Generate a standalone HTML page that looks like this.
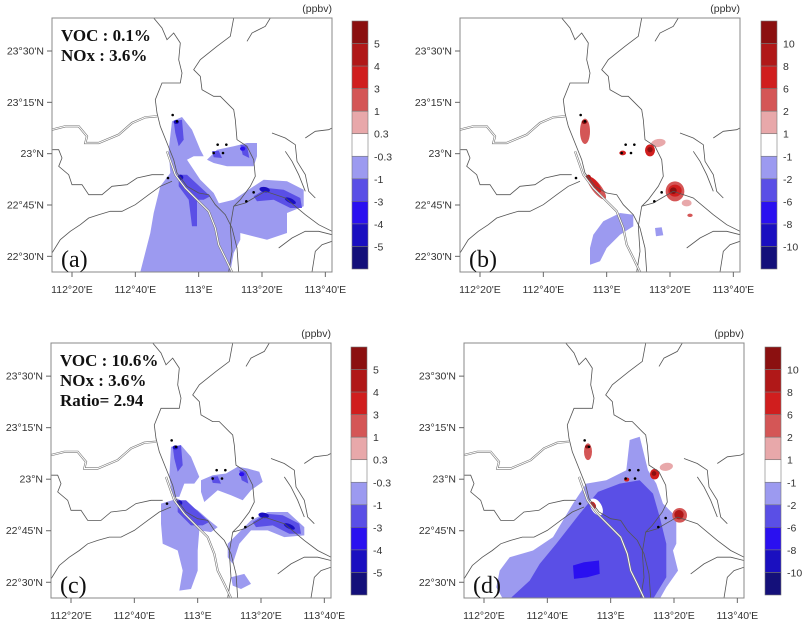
<!DOCTYPE html>
<html><head><meta charset="utf-8">
<style>
html,body{margin:0;padding:0;background:#fff;}
svg{display:block;font-family:"Liberation Sans",sans-serif;}
</style></head>
<body>
<svg id="fig" width="802" height="626" viewBox="0 0 802 626" xmlns="http://www.w3.org/2000/svg"></svg>
<script>
// ---- data ----
var lonTicks = ["112°20'E","112°40'E","113°E","113°20'E","113°40'E"];
var lonTickGrid = [60, 250, 440, 630, 820];
var latTicks = ["23°30'N","23°15'N","23°N","22°45'N","22°30'N"];
var latTickGrid = [99, 253, 407, 561, 715];
var levelsAC = ["5","4","3","1","0.3","-0.3","-1","-3","-4","-5"];
var levelsBD = ["10","8","6","2","1","-1","-2","-6","-8","-10"];
var levelColors = ["#8b1010","#b01818","#d01e1e","#d45656","#e8a8aa","#ffffff","#9c9af0","#5a4fe6","#2a10f0","#1a0fc0","#14107a"];
var sites = [[362,291],[375,310],[497,380],[523,380],[485,405],[513,405],[348,480],[605,523],[583,550]];
var annotA = ["VOC : 0.1%","NOx : 3.6%"];
var annotC = ["VOC : 10.6%","NOx : 3.6%","Ratio= 2.94"];

var plumeA = [
 {lv:6, p:[[360,310],[390,297],[420,335],[445,395],[455,415],[425,415],[405,425],[445,485],[485,525],[505,565],[545,585],[565,625],[565,665],[545,705],[535,762],[265,762],[295,645],[305,585],[325,505],[355,465],[350,395]]},
 {lv:6, p:[[465,425],[495,395],[545,385],[585,375],[615,375],[615,415],[605,445],[565,445],[525,445],[485,435]]},
 {lv:6, p:[[465,565],[545,545],[605,505],[635,485],[705,490],[755,515],[755,565],[705,585],[705,645],[645,665],[565,645],[505,615]]},
 {lv:7, p:[[365,310],[390,305],[395,365],[380,385],[370,345]]},
 {lv:7, p:[[380,470],[405,470],[475,535],[455,545],[435,545],[435,625],[420,625],[410,545],[380,505]]},
 {lv:7, p:[[605,535],[645,510],[695,515],[745,540],[750,570],[715,570],[665,545],[615,550]]},
 {lv:7, p:[[565,380],[585,383],[592,420],[572,410]]},
 {lv:7, p:[[480,400],[500,398],[510,420],[485,418]]}
];
var plumeC = [
 {lv:6, p:[[360,310],[390,305],[420,340],[445,400],[430,420],[400,420],[385,460],[365,460],[355,400]]},
 {lv:6, p:[[330,480],[380,465],[440,500],[475,530],[500,550],[480,565],[445,560],[440,620],[440,680],[420,735],[385,740],[395,680],[380,620],[335,600],[330,540]]},
 {lv:6, p:[[450,410],[485,395],[525,390],[560,370],[590,375],[625,385],[635,415],[600,440],[575,470],[540,455],[500,440],[460,475],[450,445]]},
 {lv:6, p:[[530,600],[600,530],[650,505],[710,505],[760,550],[760,575],[700,580],[650,560],[600,560],[565,600],[545,660],[530,640]]},
 {lv:6, p:[[540,700],[580,690],[600,720],[570,735],[545,725]]},
 {lv:7, p:[[365,310],[390,305],[395,365],[380,385],[370,345]]},
 {lv:7, p:[[380,470],[405,470],[475,535],[455,545],[420,545],[380,505]]},
 {lv:7, p:[[605,535],[645,510],[695,515],[745,540],[750,570],[715,570],[665,545],[615,550]]},
 {lv:7, p:[[565,380],[585,383],[592,420],[572,410]]},
 {lv:7, p:[[480,400],[500,398],[510,420],[485,418]]}
];
var plumeB = [
 {lv:6, p:[[430,610],[480,585],[520,590],[520,625],[480,650],[440,690],[420,730],[390,740],[390,690],[400,650]]},
 {lv:6, p:[[585,630],[605,628],[610,652],[588,655]]}
];
var plumeD = [
 {lv:6, p:[[497,290],[527,280],[552,380],[577,420],[597,480],[637,520],[637,600],[627,620],[642,680],[607,730],[587,765],[117,765],[97,730],[107,680],[137,640],[207,620],[267,580],[327,480],[367,420],[427,410],[487,380]]},
 {lv:7, p:[[402,445],[467,420],[527,410],[567,450],[587,520],[607,600],[607,700],[567,765],[137,765],[197,710],[227,660],[277,600],[347,510]]},
 {lv:8, p:[[327,665],[360,655],[405,650],[407,690],[370,700],[330,705]]}
];
var spotsA = [[373,312,8,6,0,9],[385,478,9,8,0,9],[638,515,16,8,10,9],[715,548,18,7,25,9],[572,392,8,6,0,8]];
var spotsC = spotsA;
var spotsB = [[375,340,15,38,0,3],[410,510,42,14,52,3],[405,500,28,10,52,2],[373,312,8,6,0,0],[385,478,8,8,0,1],[488,405,10,7,0,2],[595,375,22,12,-10,4],[570,397,15,18,0,2],[570,395,8,8,0,0],[645,520,28,30,0,3],[645,518,20,18,0,2],[640,518,10,10,0,0],[680,555,15,10,0,4],[690,592,8,5,0,3]];
var spotsD = [[397,490,16,28,-30,5],[372,325,12,25,0,3],[370,310,7,5,0,0],[387,485,8,12,-30,2],[488,408,8,6,0,2],[607,370,20,12,-10,4],[572,392,14,16,0,2],[570,390,7,7,0,0],[647,515,22,22,0,3],[645,513,14,14,0,1]];

var bounds = [
 [[305,0],[330,30],[345,65],[365,45],[385,75],[380,125],[390,165],[385,195],[330,195],[310,245],[315,285],[325,325],[345,375],[365,425],[375,465],[405,505],[440,525],[470,530],[490,560],[520,590],[540,630],[555,690],[560,762]],
 [[545,0],[535,55],[495,85],[445,125],[425,155],[445,175],[450,215],[485,235],[505,235],[535,265],[545,275],[550,305],[555,365],[585,385],[605,425],[610,475],[595,505],[565,545],[545,565],[535,625],[540,700],[530,762]],
 [[655,0],[640,25],[600,45],[585,70]],
 [[0,395],[20,395],[30,420],[20,445],[50,470],[60,500],[90,500],[110,530],[150,530],[180,505],[225,500],[255,480],[300,470],[335,470]],
 [[0,705],[25,665],[55,640],[85,620],[110,600],[140,590],[175,580],[210,580],[250,560],[290,530],[325,505],[360,490]],
 [[760,360],[790,340],[830,335],[840,330]],
 [[545,565],[580,555],[605,540],[640,520],[700,540],[760,590],[800,620],[840,640]],
 [[660,345],[700,360],[730,380],[735,430],[760,470],[770,520],[790,540]],
 [[700,400],[720,430],[740,470],[760,520]],
 [[680,690],[720,660],[760,640],[800,640],[840,650]],
 [[780,762],[790,700],[810,680],[840,670]]
];
var rivers = [
 [[0,335],[40,325],[80,325],[105,355],[100,375],[140,375],[200,350],[240,315],[280,298],[315,295]],
 [[345,400],[370,470],[400,510],[430,540],[470,580],[490,630],[500,680],[520,720],[540,762]]
];

// ---- drawing ----
var NS="http://www.w3.org/2000/svg";
var svg=document.getElementById('fig');
function mk(tag,attrs,parent){var e=document.createElementNS(NS,tag);for(var k in attrs)e.setAttribute(k,attrs[k]);(parent||svg).appendChild(e);return e;}
var panels=[
 {id:'a',fx:52,fy:18,fh:254,cbx:352,cby:21,levels:levelsAC,plumes:plumeA,spots:spotsA,annot:annotA},
 {id:'b',fx:460,fy:18,fh:254,cbx:761,cby:21,levels:levelsBD,plumes:plumeB,spots:spotsB,annot:[]},
 {id:'c',fx:51,fy:343,fh:255,cbx:351,cby:347,levels:levelsAC,plumes:plumeC,spots:spotsC,annot:annotC},
 {id:'d',fx:464,fy:343,fh:255,cbx:765,cby:347,levels:levelsBD,plumes:plumeD,spots:spotsD,annot:[]}
];
panels.forEach(function(P){
 var FW=280;
 function X(g){return P.fx+g/3;}
 function Y(g){return P.fy+g/3*(P.fh/254);}
 var g=mk('g',{});
 
 
 var clipId='clip'+P.id;
 var cp=mk('clipPath',{id:clipId},g);mk('rect',{x:P.fx,y:P.fy,width:FW,height:P.fh},cp);
 var map=mk('g',{'clip-path':'url(#'+clipId+')'},g);
 
 
 P.plumes.forEach(function(pl){
  var pts=pl.p.map(function(q){return X(q[0]).toFixed(1)+','+Y(q[1]).toFixed(1);}).join(' ');
  var e=mk('polygon',{points:pts,fill:levelColors[pl.lv],stroke:'none'},map);
  
  
 });
 P.spots.forEach(function(s){
  var e=mk('ellipse',{cx:X(s[0]),cy:Y(s[1]),rx:s[2]/3,ry:s[3]/3,fill:levelColors[s[5]],transform:'rotate('+s[4]+' '+X(s[0])+' '+Y(s[1])+')'},map);
  
  
 });
 function pathOf(line){return line.map(function(q,i){return (i?'L':'M')+X(q[0]).toFixed(1)+' '+Y(q[1]).toFixed(1);}).join('');}
 bounds.forEach(function(b){
  var e=mk('path',{d:pathOf(b),fill:'none',stroke:'#555','stroke-width':0.8},map);
  
  
 });
 rivers.forEach(function(r){
  mk('path',{d:pathOf(r),fill:'none',stroke:'#777','stroke-width':2.2},map);
  var e=mk('path',{d:pathOf(r),fill:'none',stroke:'#fff','stroke-width':1.0},map);
  
  
 });
 sites.forEach(function(s){
  var e=mk('circle',{cx:X(s[0]),cy:Y(s[1]),r:1.3,fill:'#000'},map);
  
  
 });
 var fr=mk('rect',{x:P.fx,y:P.fy,width:FW,height:P.fh,fill:'none',stroke:'#888','stroke-width':1},g);
 
 
 lonTicks.forEach(function(t,i){
  var x=X(lonTickGrid[i]);
  mk('line',{x1:x,x2:x,y1:P.fy+P.fh,y2:P.fy+P.fh+5,stroke:'#666','stroke-width':1},g);
  var e=mk('text',{x:x,y:P.fy+P.fh+21,'font-size':10.5,'text-anchor':'middle',fill:'#333'},g);
  e.textContent=t;
  
  
 });
 latTicks.forEach(function(t,i){
  var y=Y(latTickGrid[i]);
  mk('line',{x1:P.fx-5,x2:P.fx,y1:y,y2:y,stroke:'#666','stroke-width':1},g);
  var e=mk('text',{x:P.fx-8,y:y+3.5,'font-size':10.5,'text-anchor':'end',fill:'#333'},g);
  e.textContent=t;
  
  
 });
 P.annot.forEach(function(t,i){
  var e=mk('text',{x:P.fx+9,y:P.fy+23+i*20,'font-size':17,'font-weight':'bold','font-family':'"Liberation Serif",serif',fill:'#111'},g);
  e.textContent=t;
  
  
 });
 var lb=mk('text',{x:P.fx+9,y:P.fy+P.fh-5,'font-size':24,'font-family':'"Liberation Serif",serif',fill:'#111'},g);
 lb.textContent='('+P.id+')';
 
 
 var cb=mk('g',{},g);
 
 
 var bh=248/11, bw=16;
 levelColors.forEach(function(c,i){
  var e=mk('rect',{x:P.cbx,y:P.cby+i*bh,width:bw,height:bh,fill:c,stroke:'#777','stroke-width':0.6},cb);
  
  
 });
 P.levels.forEach(function(l,i){
  var e=mk('text',{x:P.cbx+bw+6,y:P.cby+(i+1)*bh+4,'font-size':10.5,fill:'#333'},cb);
  e.textContent=l;
  
  
 });
 var u=mk('text',{x:P.fx+FW,y:P.fy-6,'font-size':10.5,'text-anchor':'end',fill:'#333'},g);
 u.textContent='(ppbv)';
 
 
});
</script>
</body></html>
